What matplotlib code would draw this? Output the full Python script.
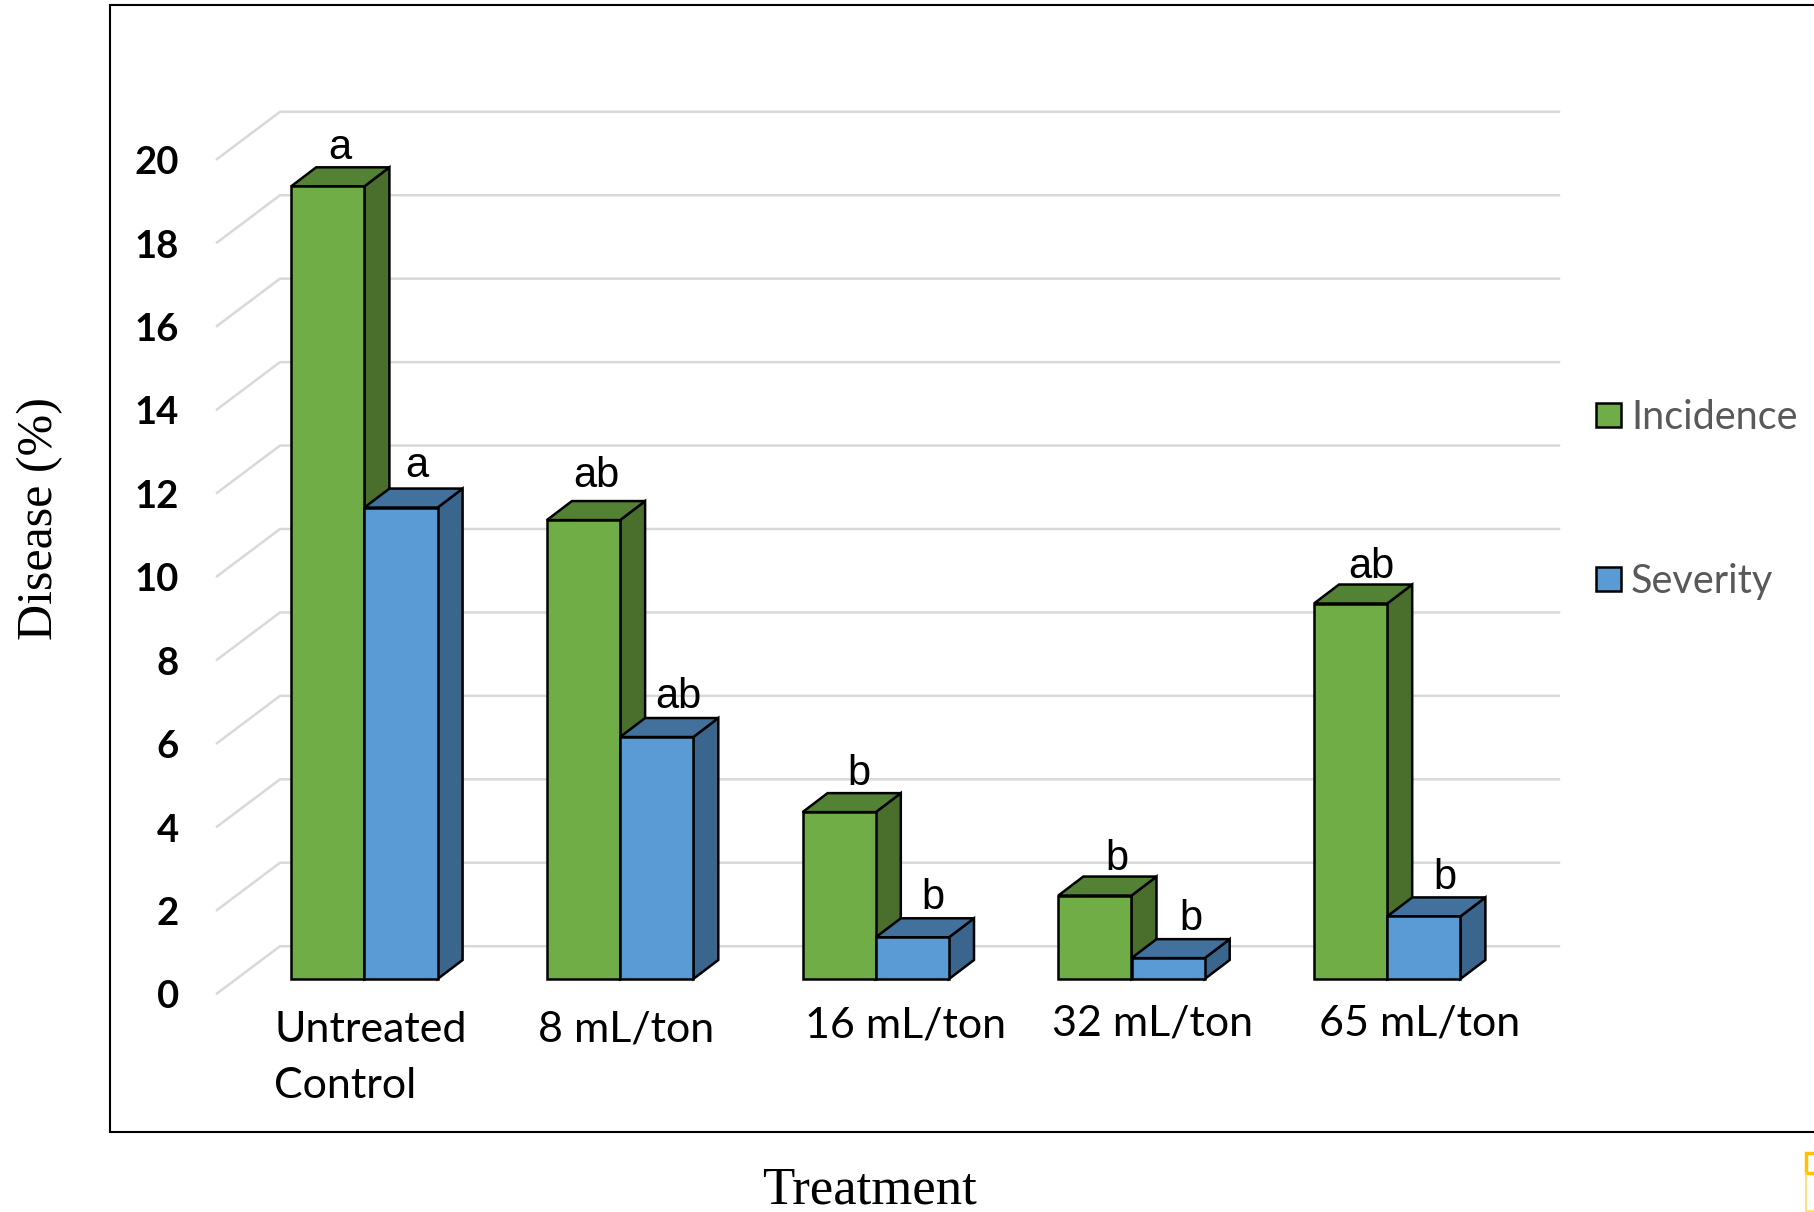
import matplotlib
matplotlib.use("Agg")
import matplotlib.pyplot as plt
from matplotlib.patches import Polygon, Rectangle
from matplotlib.transforms import Affine2D

treatments = ["Untreated\nControl", "8 mL/ton", "16 mL/ton", "32 mL/ton", "65 mL/ton"]
incidence = [19, 11, 4, 2, 9]
severity = [11.3, 5.8, 1, 0.5, 1.5]
incidence_letters = ["a", "ab", "b", "b", "ab"]
severity_letters = ["a", "ab", "b", "b", "b"]
y_ticks = [0, 2, 4, 6, 8, 10, 12, 14, 16, 18, 20]

W, H = 1814, 1212
PX_X = 255.7  # pixels per category
PX_Y = 41.72  # pixels per percent
X0, Y0 = 364.4, 979.0  # where category 0 / value 0 sit on the canvas

bar_w = 73.2 / PX_X
depth_x = 25 / PX_X
depth_y = 19 / PX_Y
floor_x = 63 / PX_X
floor_y = 47.3 / PX_Y
floor_front = -14.5 / PX_Y
floor_left = (217 - X0) / PX_X
grid_right = (1559 - X0) / PX_X

# letter placement tweaks, in pixels from the back top edge of each bar
inc_nudge = [(12, 8), (13, 14), (20, 8), (22, 7), (21, 7)]
sev_nudge = [(16, 12), (22, 10), (21, 9), (23, 9), (21, 8)]

# category label anchors, in pixels
cat_xy = [(274, 1098), (538, 1042), (805, 1038), (1052, 1035), (1319, 1035)]

plt.rcParams["font.family"] = ["Lato", "DejaVu Sans"]

fig = plt.figure(figsize=(W / 100, H / 100), dpi=100)
ax = fig.add_axes([0, 0, 1, 1])
ax.set_xlim(-X0 / PX_X, (W - X0) / PX_X)
ax.set_ylim((Y0 - H) / PX_Y, Y0 / PX_Y)
ax.axis("off")

# canvas pixels, y going down
pix = Affine2D().scale(1, -1).translate(0, H)


def draw_bar(x, value, front, top, side):
    left, right = x, x + bar_w
    edge = dict(edgecolor="black", linewidth=1.8, joinstyle="miter", zorder=3)
    ax.add_patch(Polygon([(right, 0), (right + depth_x, depth_y),
                          (right + depth_x, value + depth_y), (right, value)],
                         facecolor=side, **edge))
    ax.add_patch(Polygon([(left, value), (right, value),
                          (right + depth_x, value + depth_y), (left + depth_x, value + depth_y)],
                         facecolor=top, **edge))
    ax.add_patch(Rectangle((left, 0), bar_w, value, facecolor=front, **edge))


# back wall gridlines with their slanted floor/side part
for t in y_ticks:
    ax.plot([floor_left, floor_left + floor_x, grid_right],
            [t + floor_front, t + floor_front + floor_y, t + floor_front + floor_y],
            color="#d9d9d9", lw=1.8, zorder=1, solid_joinstyle="miter")
    ax.text(floor_left - 38 / PX_X, t + floor_front - 1 / PX_Y, str(t), ha="right", va="center_baseline",
            fontsize=27.5, fontweight="bold", color="black")

for i in range(len(treatments)):
    draw_bar(i - bar_w, incidence[i], "#70ad47", "#548235", "#4a6f2c")
    draw_bar(i, severity[i], "#5b9bd5", "#41719c", "#3a658c")

    dx, dy = inc_nudge[i]
    ax.text(i - bar_w / 2 + dx / PX_X, incidence[i] + depth_y + dy / PX_Y, incidence_letters[i],
            ha="center", va="baseline", fontsize=30, family="Liberation Sans")
    dx, dy = sev_nudge[i]
    ax.text(i + bar_w / 2 + dx / PX_X, severity[i] + depth_y + dy / PX_Y, severity_letters[i],
            ha="center", va="baseline", fontsize=30, family="Liberation Sans")

    ax.text(cat_xy[i][0], cat_xy[i][1], treatments[i], transform=pix, ha="left", va="baseline",
            fontsize=31, linespacing=1.57, color="black")

# legend
for y, color, name in [(403, "#70ad47", "Incidence"), (567, "#5b9bd5", "Severity")]:
    ax.add_patch(Rectangle((1596, y), 25, 24, transform=pix, facecolor=color,
                           edgecolor="black", linewidth=1.8))
    ax.text(1631, y + 11, name, transform=pix, ha="left", va="center_baseline",
            fontsize=28.5, color="#595959")

# frame runs off the right edge
ax.plot([W + 5, 110, 110, W + 5], [5, 5, 1132, 1132], transform=pix, color="black", lw=1.5,
        solid_joinstyle="miter", clip_on=True)

ax.text(40, 519, "Disease (%)", transform=pix, rotation=90, ha="center", va="center",
        fontsize=36, family="Liberation Serif")
ax.text(869, 1204, "Treatment", transform=pix, ha="center", va="baseline",
        fontsize=38, family="Liberation Serif")

# small marker clipped by the lower right corner
ax.add_patch(Rectangle((1806, 1153), 12, 20, transform=pix, facecolor="white",
                       edgecolor="#ffc000", linewidth=2.5))
ax.plot([1806, 1806, 1814], [1173, 1211, 1211], transform=pix, color="#ffd966", lw=1.2)

fig.savefig("out.png", dpi=100)
